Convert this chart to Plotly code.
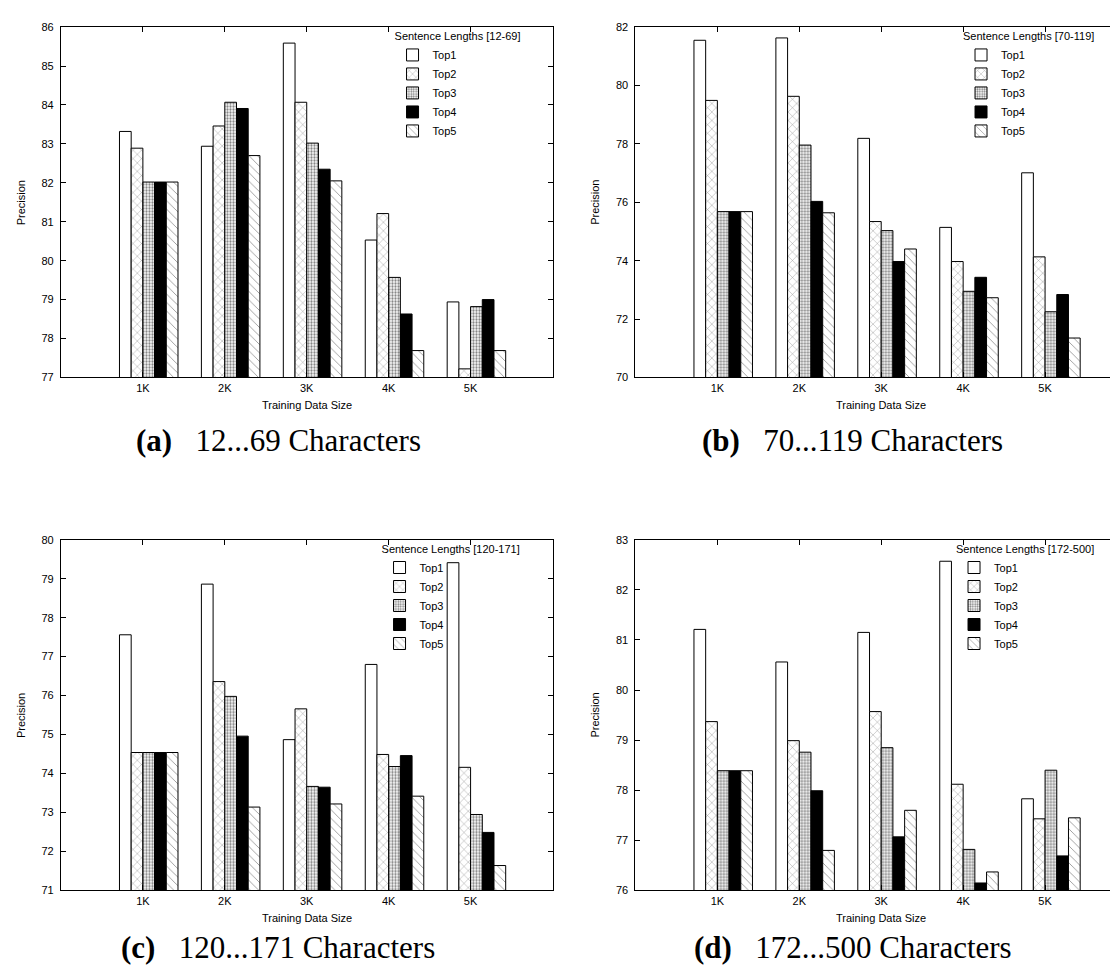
import plotly.graph_objects as go

# ---------------- data ----------------
categories = ["1K", "2K", "3K", "4K", "5K"]
series_names = ["Top1", "Top2", "Top3", "Top4", "Top5"]

panel_a = {  # Sentence Lengths [12-69]
    "Top1": [83.32, 82.94, 85.59, 80.53, 78.94],
    "Top2": [82.89, 83.46, 84.07, 81.21, 77.22],
    "Top3": [82.02, 84.07, 83.02, 79.57, 78.82],
    "Top4": [82.02, 83.91, 82.35, 78.63, 79.00],
    "Top5": [82.02, 82.70, 82.05, 77.69, 77.69],
}
panel_b = {  # Sentence Lengths [70-119]
    "Top1": [81.55, 81.63, 78.19, 75.14, 77.01],
    "Top2": [79.49, 79.63, 75.34, 73.97, 74.13],
    "Top3": [75.68, 77.96, 75.03, 72.95, 72.25],
    "Top4": [75.68, 76.03, 73.97, 73.43, 72.84],
    "Top5": [75.68, 75.64, 74.40, 72.73, 71.35],
}
panel_c = {  # Sentence Lengths [120-171]
    "Top1": [77.56, 78.86, 74.87, 76.80, 79.41],
    "Top2": [74.54, 76.36, 75.66, 74.49, 74.16],
    "Top3": [74.54, 75.98, 73.67, 74.18, 72.95],
    "Top4": [74.54, 74.96, 73.65, 74.46, 72.49],
    "Top5": [74.54, 73.14, 73.22, 73.42, 71.64],
}
panel_d = {  # Sentence Lengths [172-500]
    "Top1": [81.21, 80.56, 81.15, 82.57, 77.83],
    "Top2": [79.37, 78.99, 79.57, 78.12, 77.43],
    "Top3": [78.39, 78.76, 78.85, 76.82, 78.40],
    "Top4": [78.39, 77.99, 77.07, 76.15, 76.69],
    "Top5": [78.39, 76.80, 77.60, 76.37, 77.45],
}
panel_titles = ["Sentence Lengths [12-69]", "Sentence Lengths [70-119]",
                "Sentence Lengths [120-171]", "Sentence Lengths [172-500]"]
panel_captions = [("(a)", "12...69 Characters"), ("(b)", "70...119 Characters"),
                  ("(c)", "120...171 Characters"), ("(d)", "172...500 Characters")]
y_ranges = [(77, 86, 1), (70, 82, 2), (71, 80, 1), (76, 83, 1)]
panels = [panel_a, panel_b, panel_c, panel_d]

# ---------------- layout geometry (pixels) ----------------
W, H = 1118, 967
UNIT = 82.0                      # px per category step
col_left = [53, 628]
row_top = [13.3, 532.3]
row_bot = [368.0, 887.5]
caption_y = [431.5, 945.0]

def px_x(p):
    return p / W

def px_y(p):
    return 1 - p / H

BLACK = "black"
styles = [
    dict(color="white"),
    dict(color="white", pattern=dict(shape="x", fgcolor=BLACK, bgcolor="white", size=6, solidity=0.12)),
    dict(color="white", pattern=dict(shape=".", fgcolor=BLACK, bgcolor="white", size=3, solidity=0.45)),
    dict(color=BLACK),
    dict(color="white", pattern=dict(shape="\\", fgcolor=BLACK, bgcolor="white", size=6, solidity=0.12)),
]

SANS = "Liberation Sans, Arial, sans-serif"
SERIF = "Liberation Serif, Times New Roman, serif"

fig = go.Figure()
n = len(series_names)
bw = 1.0 / (n + 2)
xpos = list(range(1, len(categories) + 1))

annotations = []
layout = dict(
    width=W, height=H, margin=dict(l=0, r=0, t=0, b=0),
    paper_bgcolor="white", plot_bgcolor="white",
    barmode="overlay", showlegend=True,
    font=dict(family=SANS, size=11, color=BLACK),
)

for k, panel in enumerate(panels):
    r, c = divmod(k, 2)
    ax = "" if k == 0 else str(k + 1)
    left = col_left[c]
    full_right = left + 6 * UNIT
    right = min(full_right, W)
    x_max = (right - left) / UNIT
    legname = "legend" if k == 0 else f"legend{k + 1}"
    for i, name in enumerate(series_names):
        st = styles[i]
        fig.add_trace(go.Bar(
            x=xpos, y=panel[name], name=name,
            width=bw, offset=-2 * bw + i * bw,
            marker=dict(line=dict(color=BLACK, width=1), **st),
            xaxis="x" + ax, yaxis="y" + ax, legend=legname,
        ))
    ymin, ymax, ystep = y_ranges[k]
    yt = list(range(ymin, ymax + 1, ystep))
    common = dict(showline=True, linecolor=BLACK, linewidth=1, mirror="ticks",
                  ticks="inside", ticklen=5, tickwidth=1, tickcolor=BLACK,
                  showgrid=False, zeroline=False,
                  tickfont=dict(family=SANS, size=11, color=BLACK))
    layout["xaxis" + ax] = dict(
        domain=[px_x(left), px_x(right)], range=[0, x_max],
        tickvals=xpos, ticktext=categories, anchor="y" + ax, **common)
    layout["yaxis" + ax] = dict(
        domain=[px_y(row_bot[r]), px_y(row_top[r])], range=[ymin, ymax],
        tickvals=yt, anchor="x" + ax, ticklabelstandoff=4, **common)
    layout[legname] = dict(
        x=px_x(full_right - 30), xanchor="right", y=px_y(row_top[r] - 1), yanchor="top",
        bgcolor="rgba(0,0,0,0)", borderwidth=0,
        title=dict(text=panel_titles[k], font=dict(family=SANS, size=11), side="top"),
        font=dict(family=SANS, size=11), tracegroupgap=0, itemwidth=30,
        traceorder="normal",
    )
    cx = (left + full_right) / 2
    cy = (row_top[r] + row_bot[r]) / 2
    annotations.append(dict(text="Precision", textangle=-90, x=px_x(left - 40), y=px_y(cy),
                            xref="paper", yref="paper", showarrow=False,
                            xanchor="center", yanchor="middle",
                            font=dict(family=SANS, size=11)))
    annotations.append(dict(text="Training Data Size", x=px_x(cx), y=px_y(row_bot[r] + 27.5),
                            xref="paper", yref="paper", showarrow=False,
                            xanchor="center", yanchor="middle",
                            font=dict(family=SANS, size=11)))
    lab, cap = panel_captions[k]
    annotations.append(dict(text=f"<b>{lab}</b>\u2002 {cap}", x=px_x(cx - 28.5),
                            y=px_y(caption_y[r]),
                            xref="paper", yref="paper", showarrow=False,
                            xanchor="center", yanchor="middle",
                            font=dict(family=SERIF, size=31)))

layout["annotations"] = annotations
fig.update_layout(**layout)
fig.write_html("out.html")
